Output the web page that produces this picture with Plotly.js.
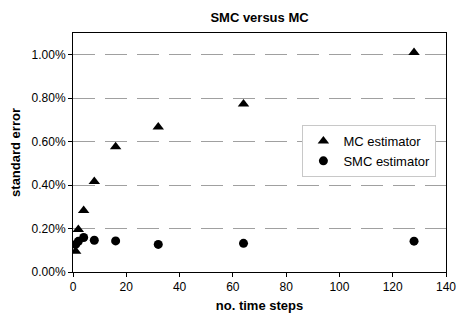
<!DOCTYPE html>
<html>
<head>
<meta charset="utf-8">
<script src="https://cdn.plot.ly/plotly-3.0.1.min.js"></script>
<style>
  body { margin: 0; background: #fff; }
  #chart { width: 467px; height: 322px; }
</style>
</head>
<body>
<div id="chart"></div>
<script>
// nombre de pas de temps
const timeSteps = [1, 2, 4, 8, 16, 32, 64, 128];

// erreur standard (en fraction, affichée en %)
const mcError = [0.00095, 0.00196, 0.00283, 0.00416, 0.00576, 0.00667, 0.00773, 0.0101];
const smcError = [0.00127, 0.00141, 0.00159, 0.00146, 0.00143, 0.00127, 0.00132, 0.00142];

const yTicks = [0, 0.002, 0.004, 0.006, 0.008, 0.010];
const xTicks = [0, 20, 40, 60, 80, 100, 120, 140];

const font = "Liberation Sans, Arial, sans-serif";

const traceMC = {
  x: timeSteps,
  y: mcError,
  name: "MC estimator",
  mode: "markers",
  type: "scatter",
  marker: { symbol: "triangle-up", size: 10, color: "#000" },
};

const traceSMC = {
  x: timeSteps,
  y: smcError,
  name: "SMC estimator",
  mode: "markers",
  type: "scatter",
  marker: { symbol: "circle", size: 9, color: "#000" },
};

const layout = {
  width: 467,
  height: 322,
  margin: { l: 73, r: 21, t: 33, b: 50 },
  paper_bgcolor: "#fff",
  plot_bgcolor: "#fff",
  font: { family: font, size: 12, color: "#000" },
  title: {
    text: "<b>SMC versus MC</b>",
    font: { size: 13 },
    x: 0.5,
    xref: "paper",
    y: 0.96,
    yref: "container",
  },
  xaxis: {
    range: [0, 140],
    tickvals: xTicks,
    ticks: "outside",
    ticklen: 4,
    tickcolor: "#000",
    showgrid: false,
    zeroline: false,
    showline: true,
    linecolor: "#000",
    linewidth: 1,
    mirror: true,
    title: { text: "<b>no. time steps</b>", font: { size: 13 }, standoff: 7 },
  },
  yaxis: {
    range: [0, 0.011],
    tickvals: yTicks,
    tickformat: ".2%",
    ticks: "outside",
    ticklen: 4,
    tickcolor: "#000",
    showgrid: true,
    gridcolor: "#a0a0a0",
    griddash: "22px,10px",
    gridwidth: 1,
    zeroline: false,
    showline: true,
    linecolor: "#000",
    linewidth: 1,
    mirror: true,
    title: { text: "<b>standard error</b>", font: { size: 13 }, standoff: 8 },
  },
  legend: {
    x: 0.615,
    y: 0.615,
    xanchor: "left",
    yanchor: "top",
    bgcolor: "#fff",
    bordercolor: "#c8c8c8",
    borderwidth: 1,
    font: { size: 13 },
    itemwidth: 30,
    tracegroupgap: 0,
  },
  showlegend: true,
};

Plotly.newPlot("chart", [traceMC, traceSMC], layout, { displayModeBar: false, staticPlot: true });
</script>
</body>
</html>
